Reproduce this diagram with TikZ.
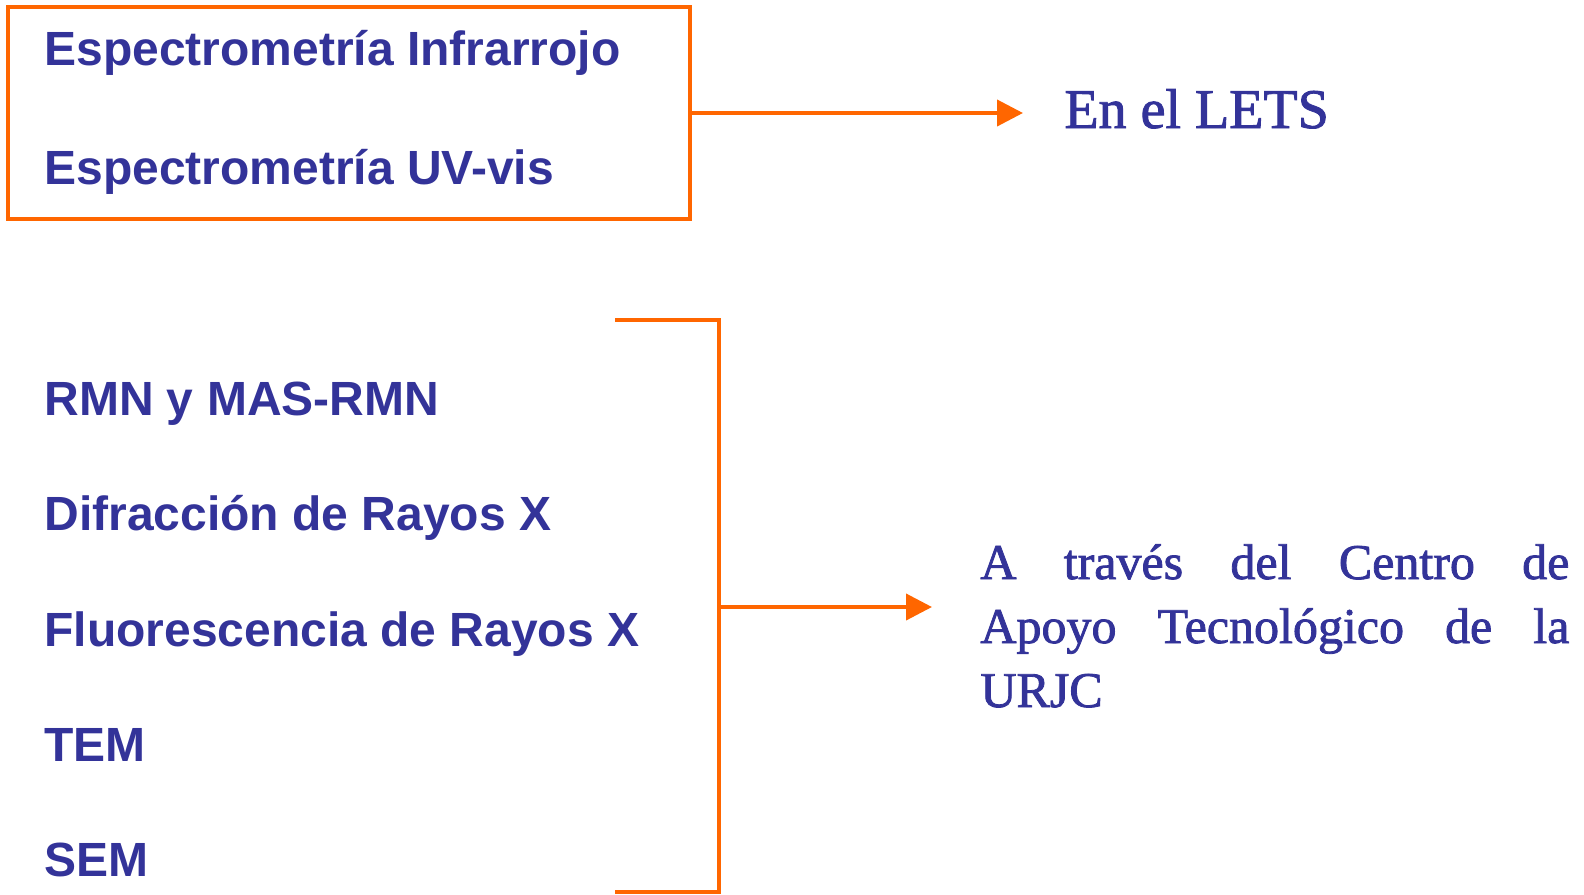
\documentclass[tikz,border=0pt]{standalone}
\usepackage{fontspec}
\setmainfont{Liberation Serif}
\newfontfamily\lsans{Liberation Sans}
\newfontfamily\semiserif[FakeBold=1.6]{Liberation Serif}
\usetikzlibrary{arrows.meta}
\definecolor{txtblue}{HTML}{333399}
\definecolor{orng}{HTML}{FF6600}
\begin{document}
\begin{tikzpicture}[x=0.5pt,y=-0.5pt,
  item/.style={anchor=base west, inner sep=0pt, font=\lsans\bfseries\fontsize{24}{28}\selectfont, text=txtblue},
  dest/.style={anchor=base west, inner sep=0pt, text=txtblue},
  conn/.style={draw=orng, line width=2pt, -{Triangle[length=13pt,width=13pt]}},
  bracketline/.style={draw=orng, line width=2pt},
  ]
\useasboundingbox[fill=white] (0,0) rectangle (1584,894);
% top group
\node[draw=orng, line width=2pt, minimum width=341pt, minimum height=106pt, inner sep=0pt] (box) at (349,113) {};
\node[item] (ir) at (44,65) {Espectrometría Infrarrojo};
\node[item] (uv) at (44,184) {Espectrometría UV-vis};
\coordinate (tip1) at (1023,113);
\draw[conn] (box.east) -- (tip1);
\node[dest, font=\semiserif\fontsize{28}{32}\selectfont] (lets) at (1064,128) {En el LETS};
% bottom group
\node[item] (rmn) at (44,415) {RMN y MAS-RMN};
\node[item] (drx) at (44,530) {Difracción de Rayos X};
\node[item] (frx) at (44,646) {Fluorescencia de Rayos X};
\node[item] (tem) at (44,761) {TEM};
\node[item] (sem) at (44,876) {SEM};
\coordinate (bt1) at (615,320);
\coordinate (bt2) at (719,320);
\coordinate (bb2) at (719,892);
\coordinate (bb1) at (615,892);
\coordinate (bmid) at (719,607);
\coordinate (tip2) at (932,607);
\draw[bracketline] (bt1) -- (bt2) -- (bb2) -- (bb1);
\draw[conn] (bmid) -- (tip2);
\node[dest, text width=294.5pt, align=justify, font=\semiserif\fontsize{25}{32}\selectfont] (cat) at (980,579)
  {A través del Centro de\linebreak Apoyo Tecnológico de la\linebreak URJC};
\end{tikzpicture}
\end{document}
